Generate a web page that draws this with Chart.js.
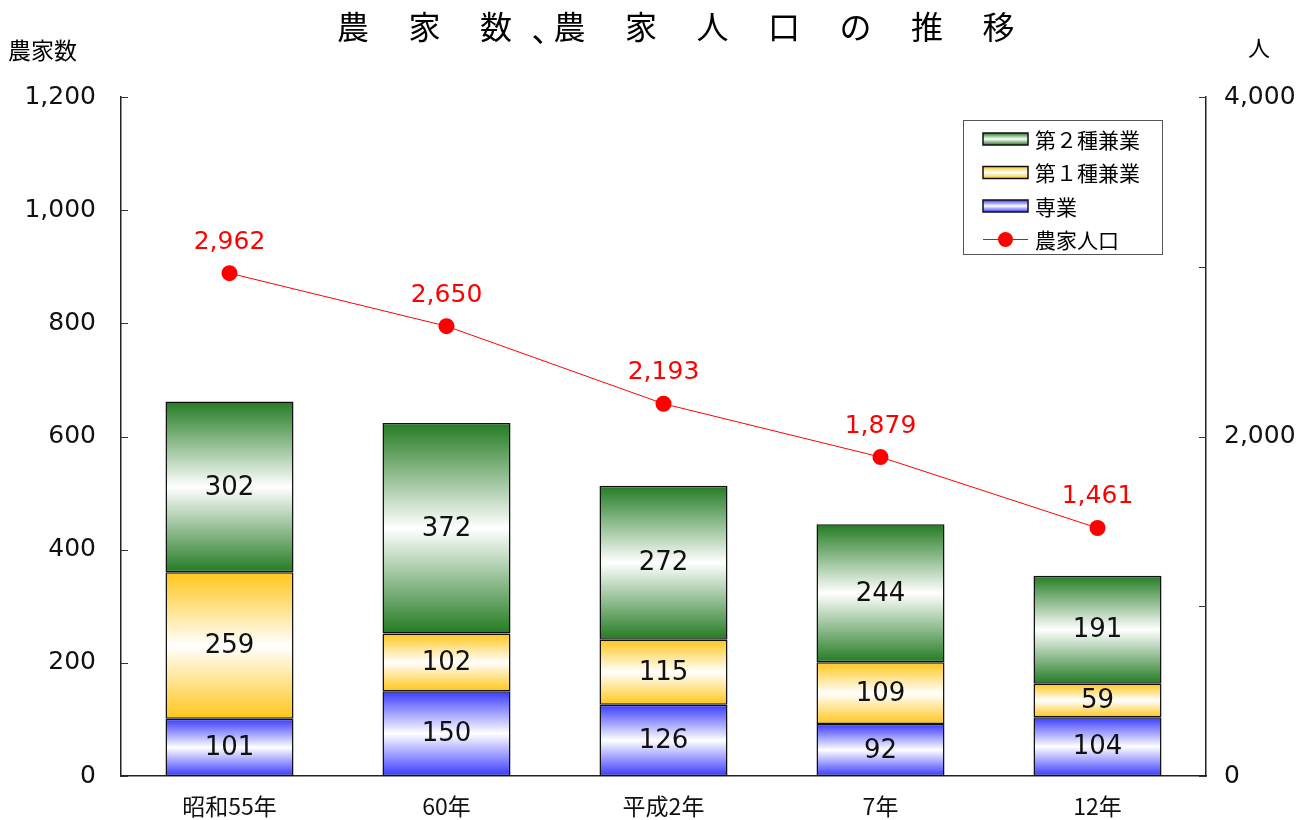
<!DOCTYPE html>
<html><head><meta charset="utf-8">
<script src="https://cdn.jsdelivr.net/npm/chart.js@4"></script>
<style>html,body{margin:0;padding:0;background:#fff}#wrap{width:1316px;height:820px}</style>
</head><body><div id="wrap"><canvas id="c"></canvas></div>
<script>
const categories = ['昭和55年', '60年', '平成2年', '7年', '12年'];
const sengyo = [101, 150, 126, 92, 104];
const kengyo1 = [259, 102, 115, 109, 59];
const kengyo2 = [302, 372, 272, 244, 191];
const population = [2962, 2650, 2193, 1879, 1461];
const titleChars = ['農', '家', '数', '、', '農', '家', '人', '口', 'の', '推', '移'];
const leftAxisTitle = '農家数';
const rightAxisTitle = '人';

const FONT = "'Noto Sans CJK JP', 'Noto Sans', sans-serif";
const NUMFONT = "'DejaVu Sans', 'Noto Sans CJK JP', sans-serif";
const barSeries = [sengyo, kengyo1, kengyo2];
const edgeColors = ['#3a3aff', '#ffc61a', '#237b23'];

function gradFill(k) {
  return (ctx) => {
    const chart = ctx.chart;
    if (!chart.chartArea || ctx.type !== 'data') return edgeColors[k];
    const i = ctx.dataIndex;
    let base = 0;
    for (let j = 0; j < k; j++) base += barSeries[j][i];
    const y = chart.scales.y;
    const top = y.getPixelForValue(base + barSeries[k][i]);
    const bot = y.getPixelForValue(base);
    const g = chart.ctx.createLinearGradient(0, top, 0, bot);
    g.addColorStop(0, edgeColors[k]);
    g.addColorStop(0.5, '#ffffff');
    g.addColorStop(1, edgeColors[k]);
    return g;
  };
}

const valueLabels = {
  id: 'valueLabels',
  afterDatasetsDraw(chart) {
    const c = chart.ctx;
    c.save();
    c.textAlign = 'center';
    c.textBaseline = 'middle';
    chart.data.datasets.forEach((ds, di) => {
      const meta = chart.getDatasetMeta(di);
      meta.data.forEach((el, i) => {
        const v = ds.data[i];
        if (ds.type === 'line') {
          c.fillStyle = '#ff0000';
          c.font = '25px ' + NUMFONT;
          c.fillText(v.toLocaleString('en-US'), el.x, el.y - 31);
        } else {
          c.fillStyle = '#111';
          c.font = '26px ' + NUMFONT;
          c.fillText(String(v), el.x, (el.y + el.base) / 2 + 1);
        }
      });
    });
    c.restore();
  }
};

const decor = {
  id: 'decor',
  afterDraw(chart) {
    const c = chart.ctx;
    const a = chart.chartArea;
    c.save();
    // inner tick marks
    c.strokeStyle = '#333';
    c.lineWidth = 1;
    chart.scales.y.ticks.forEach(t => {
      const py = Math.round(chart.scales.y.getPixelForValue(t.value)) + 0.5;
      c.beginPath(); c.moveTo(a.left, py); c.lineTo(a.left + 7, py); c.stroke();
    });
    chart.scales.y2.ticks.forEach(t => {
      const py = Math.round(chart.scales.y2.getPixelForValue(t.value)) + 0.5;
      c.beginPath(); c.moveTo(a.right - 7, py); c.lineTo(a.right, py); c.stroke();
    });
    // title
    c.fillStyle = '#000';
    c.font = '32px ' + FONT;
    c.textBaseline = 'middle';
    c.textAlign = 'left';
    let x = 337;
    titleChars.forEach((ch) => {
      if (ch === '、') { c.fillText(ch, x - 20, 30); x += 2; }
      else { c.fillText(ch, x, 27); x += 71.5; }
    });
    // axis titles
    c.font = '23px ' + FONT;
    c.fillText(leftAxisTitle, 8, 50);
    c.font = '22px ' + FONT;
    c.fillText(rightAxisTitle, 1248, 48);
    // legend
    const lx = a.right - 243, ly = 120, lw = 199, lh = 134;
    c.fillStyle = '#fff';
    c.fillRect(lx, ly, lw, lh);
    c.strokeStyle = '#555';
    c.lineWidth = 1;
    c.strokeRect(lx + 0.5, ly + 0.5, lw, lh);
    const items = [
      {label: chart.data.datasets[3].label, k: 2},
      {label: chart.data.datasets[2].label, k: 1},
      {label: chart.data.datasets[1].label, k: 0},
      {label: chart.data.datasets[0].label, k: -1}
    ];
    c.font = '21px ' + FONT;
    items.forEach((it, r) => {
      const cy = ly + 19 + r * 33.5;
      const sx = lx + 20, sw = 45;
      if (it.k >= 0) {
        const g = c.createLinearGradient(0, cy - 6, 0, cy + 6);
        g.addColorStop(0, edgeColors[it.k]);
        g.addColorStop(0.5, '#fff');
        g.addColorStop(1, edgeColors[it.k]);
        c.fillStyle = g;
        c.fillRect(sx, cy - 6, sw, 12);
        c.strokeStyle = '#111';
        c.lineWidth = 1.5;
        c.strokeRect(sx, cy - 6, sw, 12);
      } else {
        c.strokeStyle = '#ff0000';
        c.lineWidth = 1;
        c.beginPath(); c.moveTo(sx, cy); c.lineTo(sx + sw, cy); c.stroke();
        c.fillStyle = '#ff0000';
        c.beginPath(); c.arc(sx + sw / 2, cy, 7.5, 0, Math.PI * 2); c.fill();
      }
      c.fillStyle = '#000';
      c.fillText(it.label, sx + sw + 7, cy + 1);
    });
    c.restore();
  }
};

const barCommon = {
  type: 'bar', yAxisID: 'y', order: 1, borderColor: '#111', borderWidth: 1.5,
  borderSkipped: false, barPercentage: 0.59, categoryPercentage: 1.0
};

new Chart(document.getElementById('c'), {
  data: {
    labels: categories,
    datasets: [
      {type: 'line', label: '農家人口', data: population, yAxisID: 'y2', order: 0,
       borderColor: '#ff0000', borderWidth: 1, pointRadius: 8, pointBackgroundColor: '#ff0000',
       pointBorderColor: '#ff0000', pointBorderWidth: 0, tension: 0},
      Object.assign({label: '専業', data: sengyo, backgroundColor: gradFill(0)}, barCommon),
      Object.assign({label: '第１種兼業', data: kengyo1, backgroundColor: gradFill(1)}, barCommon),
      Object.assign({label: '第２種兼業', data: kengyo2, backgroundColor: gradFill(2)}, barCommon)
    ]
  },
  options: {
    responsive: true, maintainAspectRatio: false, animation: false,
    layout: {padding: {top: 97, left: 0, right: 0, bottom: 0}},
    plugins: {legend: {display: false}, tooltip: {enabled: false}, title: {display: false}},
    scales: {
      x: {
        stacked: true,
        grid: {display: false, drawTicks: false},
        border: {color: '#222', width: 1.5},
        ticks: {color: '#111', font: {family: FONT, size: 23}, padding: 16},
        afterFit: s => { s.height = 44; }
      },
      y: {
        stacked: true, position: 'left', min: 0, max: 1200,
        grid: {display: false, drawTicks: false},
        border: {color: '#222', width: 1.5},
        ticks: {stepSize: 200, color: '#111', font: {family: NUMFONT, size: 25}, padding: 25,
                callback: v => v.toLocaleString('en-US')},
        afterFit: s => { s.width = 121; }
      },
      y2: {
        position: 'right', min: 0, max: 4000,
        grid: {display: false, drawTicks: false},
        border: {color: '#222', width: 1.5},
        ticks: {stepSize: 1000, color: '#111', font: {family: NUMFONT, size: 25}, padding: 18,
                callback: v => (v % 2000 === 0 ? v.toLocaleString('en-US') : '')},
        afterFit: s => { s.width = 110; }
      }
    }
  },
  plugins: [valueLabels, decor]
});
</script></body></html>
